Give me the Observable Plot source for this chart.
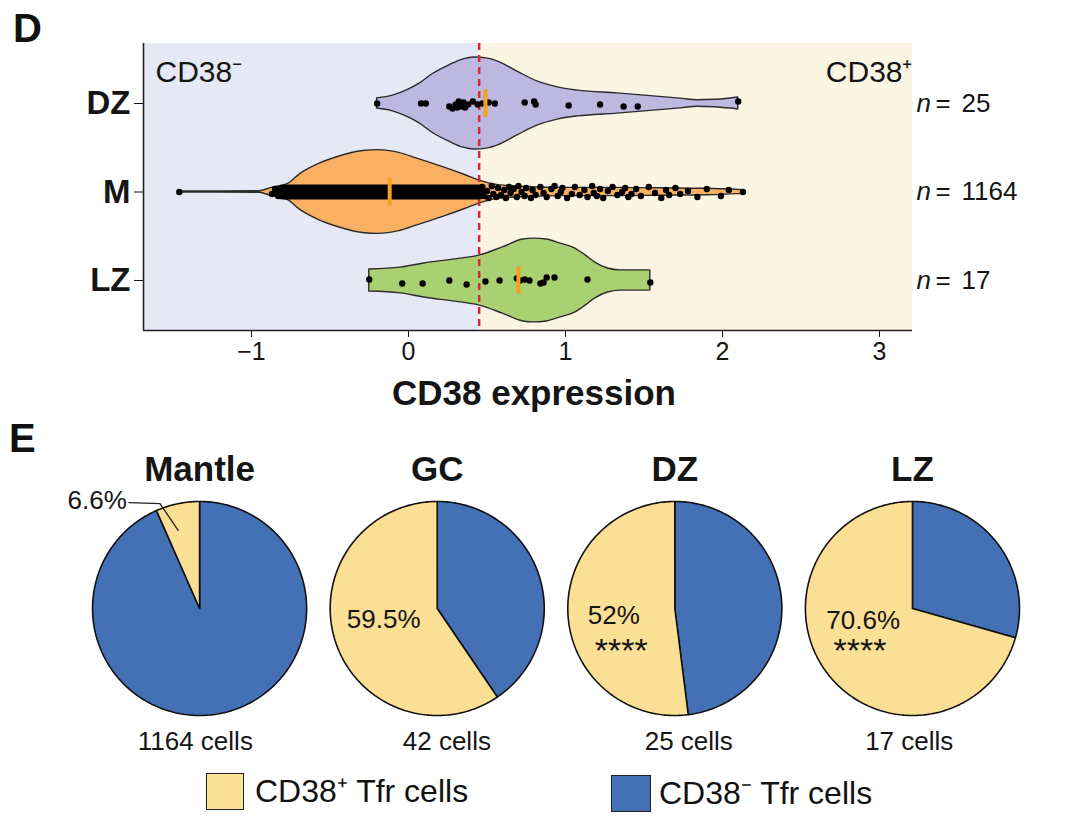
<!DOCTYPE html>
<html><head><meta charset="utf-8">
<script src="https://cdn.jsdelivr.net/npm/d3@7"></script>
<script src="https://cdn.jsdelivr.net/npm/@observablehq/plot@0.6"></script>
<style>
body{margin:0;background:#fff;width:1080px;height:826px;position:relative;overflow:hidden;font-family:"Liberation Sans",Arial,Helvetica,sans-serif;color:#111}
.abs{position:absolute}
.panel{font-size:40px;font-weight:700;line-height:1}
#violin svg g[aria-label^="y-axis"] text{font-size:33px;font-weight:700}
#violin svg g[aria-label^="x-axis"] text{font-size:25px}
.legtxt{font-size:32px;line-height:38px;white-space:nowrap}
.box{border:1.5px solid #222;box-sizing:border-box}
</style></head><body>
<div id="violin" class="abs" style="left:0;top:0"></div>
<div id="pies" class="abs" style="left:0;top:420px"></div>
<div class="abs panel" style="left:13px;top:8px">D</div>
<div class="abs panel" style="left:9px;top:418px">E</div>
<div class="abs box" style="left:206px;top:773px;width:38px;height:37px;background:#FBDF94"></div>
<div class="abs legtxt" style="left:255px;top:772px">CD38⁺ Tfr cells</div>
<div class="abs box" style="left:611px;top:775px;width:40px;height:37px;background:#4471B5"></div>
<div class="abs legtxt" style="left:659px;top:774px">CD38⁻ Tfr cells</div>
<script>
// ---------- Panel D data ----------
const categories = ["DZ", "M", "LZ"];
const counts = [25, 1164, 17];
const medians = [0.49, -0.12, 0.70];
const threshold = 0.45;
const xTicks = [-1, 0, 1, 2, 3];

// violin density profiles (x, relative density)
const dzProfileX = [-0.20, -0.1, 0.0, 0.07, 0.15, 0.26, 0.35, 0.42, 0.5, 0.57, 0.69, 0.82, 0.95, 1.08, 1.33, 1.58, 1.75, 1.84, 1.95, 2.05, 2.10];
const dzDensity  = [0.11, 0.17, 0.30, 0.43, 0.63, 0.83, 0.96, 1.00, 0.98, 0.91, 0.70, 0.48, 0.35, 0.28, 0.22, 0.15, 0.10, 0.07, 0.08, 0.11, 0.13];
const mProfileX  = [-1.46, -1.2, -0.95, -0.87, -0.77, -0.69, -0.57, -0.45, -0.29, -0.19, -0.06, 0.06, 0.22, 0.36, 0.46, 0.57, 0.75, 1.0, 1.3, 1.6, 1.9, 2.13];
const mDensity   = [0.013, 0.013, 0.017, 0.09, 0.17, 0.39, 0.61, 0.76, 0.89, 0.91, 0.85, 0.72, 0.54, 0.37, 0.24, 0.15, 0.11, 0.09, 0.09, 0.08, 0.07, 0.04];
const lzProfileX = [-0.25, -0.05, 0.1, 0.3, 0.45, 0.6, 0.73, 0.8, 0.88, 0.97, 1.06, 1.13, 1.19, 1.27, 1.35, 1.45, 1.54];
const lzDensity  = [0.24, 0.28, 0.37, 0.46, 0.54, 0.72, 0.89, 0.91, 0.89, 0.80, 0.70, 0.54, 0.39, 0.26, 0.22, 0.22, 0.22];

// cells: [CD38 expression, jitter]
const dzCells = [[-0.20,0],[0.08,0],[0.11,0],[0.26,3],[0.28,5],[0.30,1],[0.31,4],[0.32,-2],[0.33,3],[0.35,-1],[0.36,4],[0.38,1],[0.41,-2],[0.44,1],[0.47,0],[0.51,-1],[0.55,0],[0.74,-1],[0.80,-2],[0.81,1],[1.02,2],[1.22,1],[1.37,3],[1.46,3],[2.10,-2]];
const lzCells = [[-0.25,-1],[-0.04,3],[0.09,3],[0.26,0],[0.37,4],[0.49,1],[0.58,0],[0.69,-2],[0.71,0],[0.74,-1],[0.77,0],[0.84,3],[0.86,2],[0.88,-3],[0.93,-3],[1.14,-1],[1.54,2]];
const mDenseRange = [-0.80, 0.45];
const mCells = [[-1.46,0],[-0.87,2],[-0.85,-3],[-0.83,4],
 [0.47,-5],[0.48,4],[0.50,-1],[0.51,6],[0.53,-6],[0.54,2],[0.56,5],[0.57,-4],[0.59,3],[0.61,-2],[0.62,6],[0.64,-5],[0.65,1],[0.67,-3],[0.69,5],[0.70,-6],[0.72,0],[0.74,4],[0.75,-4],[0.78,6],[0.79,-2],[0.81,3],[0.84,-5],[0.86,1],[0.88,5],[0.91,-3],[0.93,-6],[0.95,4],[0.97,0],[0.98,-4],[1.01,6],[1.04,2],[1.06,-5],[1.09,3],[1.12,-2],[1.14,5],[1.17,-6],[1.18,1],[1.20,4],[1.22,-3],[1.24,6],[1.27,-1],[1.30,-5],[1.33,3],[1.36,0],[1.38,-4],[1.40,5],[1.42,2],[1.45,-3],[1.48,4],[1.53,-5],[1.57,1],[1.61,6],[1.64,-2],[1.66,3],[1.70,-4],[1.73,2],[1.78,-1],[1.84,5],[1.90,-3],[1.99,4],[2.04,-2],[2.13,0]];

// ---------- Panel E data ----------
const pieNames = ["Mantle", "GC", "DZ", "LZ"];
const pctPositive = [6.6, 59.5, 52, 70.6];
const pctLabels = ["6.6%", "59.5%", "52%", "70.6%"];
const cellCounts = [1164, 42, 25, 17];
const stars = ["", "", "****", "****"];

// ---------- layout / style ----------
const font = '"Liberation Sans", Arial, Helvetica, sans-serif';
const xDomain = [-1.688, 3.21];
const yDomain = [0.435, 3.678];
const pxPerY = 88.5;
const halfMax = 0.52;
const pos = {DZ: 3, M: 2, LZ: 1};
const violinFill = {DZ: "#BCB8E0", M: "#F9B063", LZ: "#A9D171"};
const ink = "#151515";

const profile = (xs, ds, g) => xs.map((x, i) => ({x, lo: pos[g] - ds[i] * halfMax, hi: pos[g] + ds[i] * halfMax}));
const cells = (arr, g) => arr.map(([x, j]) => ({x, y: pos[g] - j / pxPerY}));

const violin = (xs, ds, g) => Plot.areaY(profile(xs, ds, g), {
  x: "x", y1: "lo", y2: "hi", fill: violinFill[g], stroke: "#2b2b2b", strokeWidth: 1.4, curve: "monotone-x"
});

const plotD = Plot.plot({
  width: 1080, height: 420,
  marginLeft: 143, marginRight: 168, marginTop: 43, marginBottom: 90,
  x: {domain: xDomain, ticks: xTicks, tickFormat: d => (d < 0 ? "\u2212" : "") + Math.abs(d), tickSize: 7, tickPadding: 5, label: null},
  y: {domain: yDomain, ticks: [1, 2, 3], tickFormat: d => ({3: "DZ", 2: "M", 1: "LZ"})[d], tickSize: 9, tickPadding: 4, label: null},
  style: {fontFamily: font, fontSize: "25px", color: ink, background: "transparent", overflow: "visible"},
  marks: [
    Plot.rect([0], {x1: () => xDomain[0], x2: () => threshold, y1: () => yDomain[0], y2: () => yDomain[1], fill: "#E7E8F5"}),
    Plot.rect([0], {x1: () => threshold, x2: () => xDomain[1], y1: () => yDomain[0], y2: () => yDomain[1], fill: "#FDF5E4"}),
    violin(dzProfileX, dzDensity, "DZ"),
    violin(mProfileX, mDensity, "M"),
    violin(lzProfileX, lzDensity, "LZ"),
    Plot.ruleX([threshold], {stroke: "#D42A3C", strokeWidth: 2.5, strokeDasharray: "7,5"}),
    Plot.ruleY([0], {y: () => pos.M, x1: () => mDenseRange[0], x2: () => mDenseRange[1], stroke: "#000", strokeWidth: 15, strokeLinecap: "round"}),
    Plot.dot(cells(mCells, "M"), {x: "x", y: "y", r: 3.2, fill: "#000"}),
    Plot.dot(cells(dzCells, "DZ"), {x: "x", y: "y", r: 3.2, fill: "#000"}),
    Plot.dot(cells(lzCells, "LZ"), {x: "x", y: "y", r: 3.2, fill: "#000"}),
    Plot.ruleX(categories, {x: (d, i) => medians[i], y1: d => pos[d] - 0.155, y2: d => pos[d] + 0.155, stroke: "#F5A01E", strokeWidth: 4}),
    Plot.ruleX([xDomain[0]], {stroke: "#222", strokeWidth: 1.6}),
    Plot.ruleY([yDomain[0]], {stroke: "#222", strokeWidth: 1.6}),
    Plot.text(["CD38⁻"], {frameAnchor: "top-left", dx: 12, dy: 29, textAnchor: "start", lineAnchor: "middle", fontSize: 30}),
    Plot.text(["CD38⁺"], {frameAnchor: "top-right", dx: 0, dy: 29, textAnchor: "end", lineAnchor: "middle", fontSize: 30}),
    Plot.text(categories, {x: () => xDomain[1], y: d => pos[d], text: () => "n", fontStyle: "italic", dx: 4, textAnchor: "start", fontSize: 26}),
    Plot.text(categories, {x: () => xDomain[1], y: d => pos[d], text: () => "=", dx: 23, textAnchor: "start", fontSize: 26}),
    Plot.text(categories, {x: () => xDomain[1], y: d => pos[d], text: (d, i) => String(counts[i]), dx: 49, textAnchor: "start", fontSize: 26}),
    Plot.text(["CD38 expression"], {frameAnchor: "bottom", dx: 6, dy: 63, lineAnchor: "middle", fontSize: 35, fontWeight: "bold"})
  ]
});
document.getElementById("violin").appendChild(plotD);

// ---------- Panel E ----------
const spacing = 2.22;
const pieX = pieNames.map((d, i) => i * spacing);
function slice(cx, a0, a1, key) {
  const pts = [{x: cx, y: 0, key}];
  const n = Math.max(2, Math.ceil((a1 - a0) / (Math.PI / 180)));
  for (let k = 0; k <= n; k++) {
    const a = a0 + (a1 - a0) * k / n;
    pts.push({x: cx + Math.sin(a), y: Math.cos(a), key});
  }
  pts.push({x: cx, y: 0, key});
  return pts;
}
const blueSlices = pieNames.flatMap((name, i) => slice(pieX[i], 0, (1 - pctPositive[i] / 100) * 2 * Math.PI, name));
const yellowSlices = pieNames.flatMap((name, i) => slice(pieX[i], (1 - pctPositive[i] / 100) * 2 * Math.PI, 2 * Math.PI, name));
const pctDx = [-0.68, -0.50, -0.57, -0.46];
const pctDy = [1.01, -0.10, -0.07, -0.11];
const starDx = [0, 0, -0.50, -0.49];
const cellDx = [-0.04, 0.09, 0.13, -0.03];
const leader = [[-0.66, 0.99], [-0.37, 0.98], [-0.20, 0.73]].map(([x, y]) => ({x: pieX[0] + x, y}));

const plotE = Plot.plot({
  width: 1080, height: 350, margin: 0,
  x: {domain: [-1.86, 8.23], axis: null},
  y: {domain: [-1.514, 1.757], axis: null},
  style: {fontFamily: font, fontSize: "26px", color: ink, background: "transparent", overflow: "visible"},
  marks: [
    Plot.line(blueSlices, {x: "x", y: "y", z: "key", fill: "#4471B5", stroke: "#111", strokeWidth: 1.6, strokeLinejoin: "miter"}),
    Plot.line(yellowSlices, {x: "x", y: "y", z: "key", fill: "#FBDF94", stroke: "#111", strokeWidth: 1.6, strokeLinejoin: "miter"}),
    Plot.line(leader, {x: "x", y: "y", stroke: "#222", strokeWidth: 1.3}),
    Plot.text(pieNames, {x: (d, i) => pieX[i], y: () => 1.30, fontSize: 35, fontWeight: "bold"}),
    Plot.text(pctLabels.slice(0, 1), {x: () => pieX[0] + pctDx[0], y: () => pctDy[0], textAnchor: "end", fontSize: 26}),
    Plot.text(pctLabels.slice(1), {x: (d, i) => pieX[i + 1] + pctDx[i + 1], y: (d, i) => pctDy[i + 1], fontSize: 26}),
    Plot.text(stars, {x: (d, i) => pieX[i] + starDx[i], y: () => -0.40, fontSize: 34, lineAnchor: "middle"}),
    Plot.text(cellCounts, {x: (d, i) => pieX[i] + cellDx[i], y: () => -1.243, text: d => d + " cells", fontSize: 26})
  ]
});
document.getElementById("pies").appendChild(plotE);
</script>
</body></html>
